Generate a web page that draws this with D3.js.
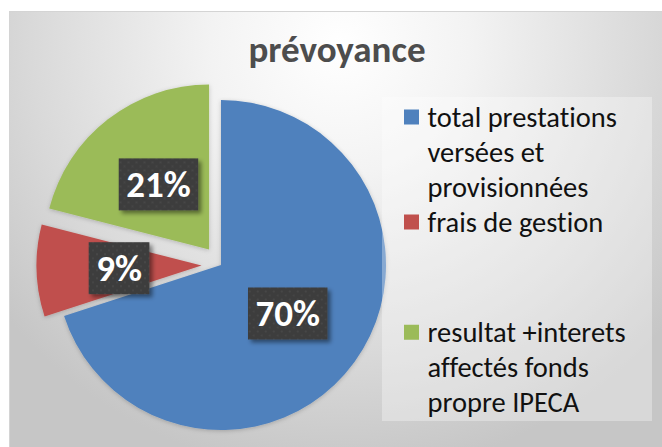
<!DOCTYPE html>
<html>
<head>
<meta charset="utf-8">
<script src="https://cdn.jsdelivr.net/npm/d3@7"></script>
<style>
  body { margin: 0; background: #fff; }
  svg { display: block; }
  text { font-family: Carlito, Calibri, Lato, sans-serif; font-variant-ligatures: none; }
</style>
</head>
<body>
<div id="chart"></div>
<script>
const title = "prévoyance";
const categories = [
    "total prestations versées et provisionnées",
    "frais de gestion",
    "resultat +interets affectés fonds propre IPECA"
];
const legendLines = [
    ["total prestations", "versées et", "provisionnées"],
    ["frais de gestion"],
    ["resultat +interets", "affectés fonds", "propre IPECA"]
];
const values = [70, 9, 21];
const labels = ["70%", "9%", "21%"];
const colors = ["#4f81bd", "#c0504d", "#9bbb59"];
const explode = [0, 19.5, 19.5];
// line index where each legend entry starts
const legendStart = [0, 3, 6.15];

const width = 662;
const height = 447;
const radius = 165;
const cx = 221, cy = 265;

const svg = d3.select("#chart")
    .append("svg")
    .attr("width", width)
    .attr("height", height);

const defs = svg.append("defs");

const grad = defs.append("radialGradient")
    .attr("id", "bg")
    .attr("gradientUnits", "userSpaceOnUse")
    .attr("cx", 340).attr("cy", 45).attr("r", 430);
grad.append("stop").attr("offset", 0).attr("stop-color", "#ffffff");
grad.append("stop").attr("offset", 0.3).attr("stop-color", "#f3f3f3");
grad.append("stop").attr("offset", 0.72).attr("stop-color", "#d9d9d9");
grad.append("stop").attr("offset", 1).attr("stop-color", "#c6c6c6");

// little dotted texture for the label boxes
const pat = defs.append("pattern")
    .attr("id", "dots")
    .attr("patternUnits", "userSpaceOnUse")
    .attr("width", 8).attr("height", 8);
pat.append("rect").attr("width", 8).attr("height", 8).attr("fill", "#3d3d3d");
pat.append("circle").attr("cx", 2).attr("cy", 2).attr("r", 1).attr("fill", "#4a4a4a");
pat.append("circle").attr("cx", 6).attr("cy", 6).attr("r", 1).attr("fill", "#474747");

const shadow = defs.append("filter")
    .attr("id", "shadow")
    .attr("x", "-20%").attr("y", "-20%")
    .attr("width", "150%").attr("height", "150%");
shadow.append("feDropShadow")
    .attr("dx", 3).attr("dy", 3)
    .attr("stdDeviation", 2)
    .attr("flood-color", "#000")
    .attr("flood-opacity", 0.45);

const sliceShadow = defs.append("filter")
    .attr("id", "sliceShadow")
    .attr("x", "-10%").attr("y", "-10%")
    .attr("width", "120%").attr("height", "120%");
sliceShadow.append("feDropShadow")
    .attr("dx", 0).attr("dy", 1)
    .attr("stdDeviation", 2)
    .attr("flood-color", "#000")
    .attr("flood-opacity", 0.2);

// chart area
svg.append("rect")
    .attr("x", 9.5)
    .attr("y", 11.5)
    .attr("width", width)
    .attr("height", height)
    .attr("fill", "url(#bg)")
    .attr("stroke", "#d4d4d4");

svg.append("text")
    .attr("x", 337)
    .attr("y", 62)
    .attr("text-anchor", "middle")
    .attr("font-size", 37)
    .attr("font-weight", "bold")
    .attr("fill", "#4d4d4d")
    .text(title);

const pie = d3.pie()
    .value(d => d)
    .sort(null);

const arc = d3.arc()
    .innerRadius(0)
    .outerRadius(radius);

const arcs = pie(values);

function offset(d, i) {
    const a = (d.startAngle + d.endAngle) / 2;
    return [Math.sin(a) * explode[i], -Math.cos(a) * explode[i]];
}

const g = svg.append("g")
    .attr("transform", "translate(" + cx + "," + cy + ")");

g.selectAll("path")
    .data(arcs)
    .enter()
    .append("path")
    .attr("transform", (d, i) => "translate(" + offset(d, i) + ")")
    .attr("d", arc)
    .attr("fill", (d, i) => colors[i])
    .attr("filter", "url(#sliceShadow)");

// data labels
const lab = g.selectAll("g.lab")
    .data(arcs)
    .enter()
    .append("g")
    .attr("class", "lab")
    .attr("transform", function (d, i) {
        const c = arc.centroid(d);
        const o = offset(d, i);
        return "translate(" + (c[0] + o[0]) + "," + (c[1] + o[1]) + ")";
    });

lab.append("rect")
    .attr("fill", "url(#dots)")
    .attr("filter", "url(#shadow)");

lab.append("text")
    .attr("text-anchor", "middle")
    .attr("dy", ".35em")
    .attr("font-size", 37)
    .attr("font-weight", "bold")
    .attr("fill", "#fff")
    .text((d, i) => labels[i]);

lab.each(function () {
    const t = d3.select(this).select("text").node();
    const w = t.getComputedTextLength() + 15;
    d3.select(this).select("rect")
        .attr("x", -w / 2)
        .attr("y", -26)
        .attr("width", w)
        .attr("height", 52);
});

// legend
const legend = svg.append("g")
    .attr("transform", "translate(382,97)");

legend.append("rect")
    .attr("width", 270)
    .attr("height", 324)
    .attr("fill", "#fff")
    .attr("fill-opacity", 0.32);

const lineH = 35;

const item = legend.selectAll("g.item")
    .data(categories)
    .enter()
    .append("g")
    .attr("class", "item")
    .attr("transform", (d, i) => "translate(22," + (20 + legendStart[i] * lineH) + ")");

item.append("rect")
    .attr("x", 0)
    .attr("y", -7.5)
    .attr("width", 15)
    .attr("height", 15)
    .attr("fill", (d, i) => colors[i]);

item.each(function (d, i) {
    d3.select(this).selectAll("text")
        .data(legendLines[i])
        .enter()
        .append("text")
        .attr("x", 23.5)
        .attr("y", (l, j) => j * lineH)
        .attr("dy", ".35em")
        .attr("font-size", 28.5)
        .attr("fill", "#111")
        .text(l => l);
});
</script>
</body>
</html>
